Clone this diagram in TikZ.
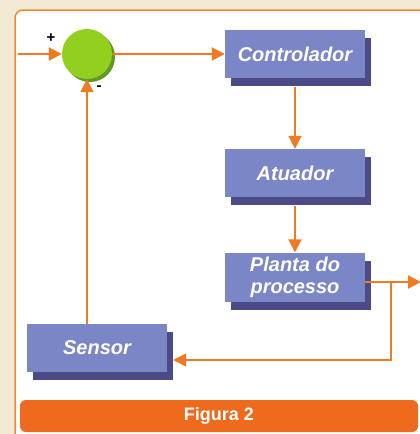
\documentclass[tikz,border=0pt]{standalone}
\usepackage{fontspec}
\setmainfont{Liberation Sans}
\usepackage{tikz}
\usetikzlibrary{arrows.meta, positioning, shadows}

\definecolor{paper}{HTML}{F2EAD4}
\definecolor{frameorange}{HTML}{F08A30}
\definecolor{arroworange}{HTML}{F07A22}
\definecolor{barorange}{HTML}{EE6A1C}
\definecolor{boxblue}{HTML}{7B86C6}
\definecolor{shadeblue}{HTML}{4B4B88}
\definecolor{sumgreen}{HTML}{92CF1E}
\definecolor{sumdark}{HTML}{5E9A22}

\begin{document}
\begin{tikzpicture}[
  x=1pt, y=-1pt,
  block/.style={fill=boxblue, minimum width=140pt, minimum height=48pt,
    inner sep=0pt, align=center, text=white,
    font=\fontsize{20}{22}\selectfont\bfseries\itshape,
    drop shadow={shadow xshift=6pt, shadow yshift=-8pt, fill=shadeblue, opacity=1}},
  summer/.style={circle, fill=sumgreen, minimum size=50pt, inner sep=0pt,
    drop shadow={shadow xshift=3pt, shadow yshift=-3pt, fill=sumdark, opacity=1}},
  tip/.style={-{Triangle[length=13pt, width=13pt]}},
  flow/.style={draw=arroworange, line width=2pt, tip},
  line/.style={draw=arroworange, line width=1.5pt},
  sign/.style={font=\fontsize{15}{15}\selectfont\bfseries, inner sep=0pt},
]

\useasboundingbox (0,0) rectangle (420,434);

%% Paper and panel
\fill[paper] (0,0) rectangle (420,434);
\fill[white, rounded corners=8pt] (15,440) -- (15,10) -- (430,10) [sharp corners] -- (430,440) -- cycle;
\draw[frameorange, line width=1.5pt, rounded corners=8pt] (15,440) -- (15,10) -- (430,10);

%% Blocks
\node[summer] (sum) at (87,54) {};
\node[block] (ctrl) at (295,54) {Controlador};
\node[block] (act) at (295,173) {Atuador};
\node[block, minimum height=49pt] (plant) at (295,277) {Planta do\\processo};
\node[block] (sens) at (97,348) {Sensor};

\node[sign] (plus) at (51,38) {+};
\node[sign] (minus) at (99,88) {-};

%% Connectors
\coordinate (in) at (18,54);
\coordinate (out) at (421,282);
\coordinate (br) at (391,282);
\coordinate (sensin) at ([xshift=6pt, yshift=-12pt]sens.east);

\draw[flow] (in) -- (sum.west);
\draw[flow] (sum.east) -- (ctrl.west);
\draw[flow] ([yshift=-9pt]ctrl.south) -- (act.north);
\draw[flow] ([yshift=-9pt]act.south) -- (plant.north);
\draw[flow] ([yshift=-5pt]plant.east) -- (out);
\draw[line, tip] (br) |- (sensin);
\draw[line, tip] (sens.north -| sum.south) -- (sum.south);

%% Caption bar
\node[fill=barorange, rounded corners=6pt, minimum width=398pt, minimum height=32pt,
  text=white, font=\fontsize{18}{20}\selectfont\bfseries] (cap) at (219,416) {Figura 2};

\end{tikzpicture}
\end{document}
